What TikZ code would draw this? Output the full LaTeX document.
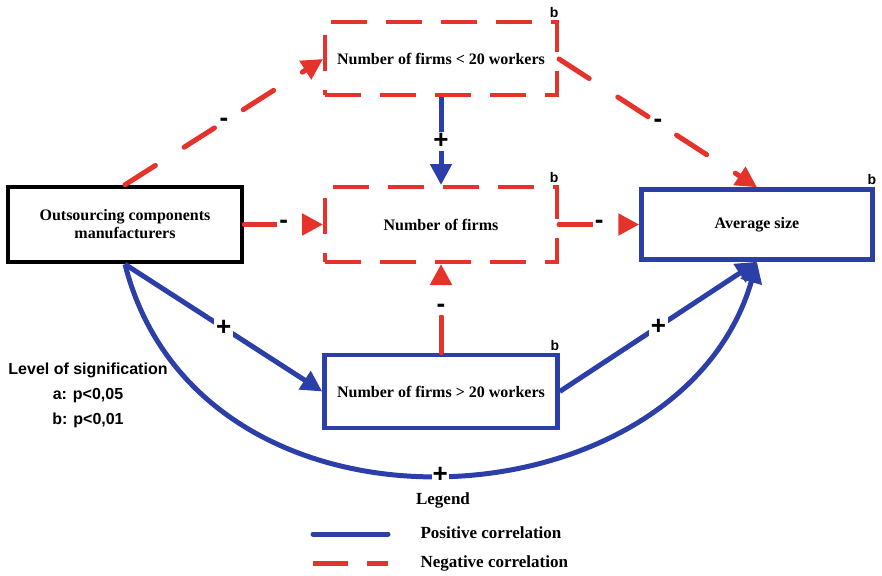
\documentclass[tikz,border=0pt]{standalone}
\usepackage{fontspec}
\setmainfont{Liberation Serif}
\newfontfamily\labelsans{Liberation Sans}
\usetikzlibrary{arrows.meta}
\definecolor{negred}{HTML}{E5322A}
\definecolor{posblue}{HTML}{2C3FA8}
\begin{document}
\begin{tikzpicture}[x=1pt,y=-1pt,
  box/.style={rectangle, inner sep=0pt, align=center,
    font=\fontsize{16}{18}\selectfont\bfseries},
  solidbox/.style={box, line width=4.5pt},
  dashbox/.style={box, draw=negred, line width=4pt, dash pattern=on 36pt off 19pt},
  sig/.style={font=\labelsans\fontsize{16}{18}\selectfont\bfseries},
  sigmark/.style={font=\labelsans\fontsize{14}{16}\selectfont\bfseries},
  poslink/.style={draw=posblue, line width=5pt,
    -{Triangle[length=21pt,width=21pt]}},
  neglink/.style={draw=negred, line width=5pt, line cap=round,
    dash pattern=on 36pt off 34pt,
    -{Triangle[length=21pt,width=21pt]}},
  sign/.style={fill=white, inner sep=2pt, text=black,
    font=\labelsans\fontsize{26}{26}\selectfont\bfseries},
  legtext/.style={anchor=west, font=\fontsize{17}{19}\selectfont\bfseries}
]
\useasboundingbox (0,0) rectangle (882,575);

% boxes
\node[solidbox, draw=black, minimum width=234pt, minimum height=75pt]
  (out) at (125,224.5) {Outsourcing components\\manufacturers};
\node[dashbox, minimum width=232pt, minimum height=73pt]
  (small) at (441,59) {Number of firms < 20 workers};
\node[dashbox, minimum width=232pt, minimum height=75pt]
  (firms) at (441,224.5) {Number of firms};
\node[solidbox, draw=posblue, minimum width=231pt, minimum height=70pt]
  (avg) at (757,224.5) {Average size};
\node[solidbox, draw=posblue, minimum width=233pt, minimum height=73pt]
  (large) at (441,391.5) {Number of firms > 20 workers};

% significance marks
\node[sigmark, anchor=south east] (bs) at ([xshift=3pt,yshift=-1pt]small.north east) {b};
\node[sigmark, anchor=south east] (bf) at ([xshift=3pt,yshift=-1pt]firms.north east) {b};
\node[sigmark, anchor=south east] (ba) at ([xshift=5pt,yshift=-1pt]avg.north east) {b};
\node[sigmark, anchor=south east] (bl) at ([xshift=3pt,yshift=-1pt]large.north east) {b};

% negative correlations
\draw[neglink] (out.north) -- node[sign, midway] {-} (small.west);
\draw[neglink] (out.east) -- node[sign, midway] {-} (firms.west);
\draw[neglink] (firms.east) -- node[sign, midway] {-} (avg.west);
\draw[neglink] (small.east) -- node[sign, midway] {-} (avg.north);
\draw[neglink] (large.north) -- node[sign, midway] {-} (firms.south);

% positive correlations
\draw[poslink] (small.south) -- node[sign, midway] {+} (firms.north);
\draw[poslink] (out.south) -- node[sign, midway] {+} (large.west);
\draw[poslink] (large.east) -- node[sign, midway] {+} (avg.south);
\draw[poslink] (out.south) .. controls (200,560) and (680,530) .. node[sign, pos=0.5, inner sep=1pt] {+} (avg.south);

% significance levels
\node[sig] (lvl) at (88,370) {Level of signification};
\node[sig] (lva) at (88,396) {a: p<0,05};
\node[sig] (lvb) at (88,420) {b: p<0,01};

% legend
\node[font=\fontsize{17}{19}\selectfont\bfseries] (leg) at (443,500) {Legend};
\coordinate (pa) at (313,534);
\coordinate (pb) at (388,534);
\coordinate (na) at (313,563);
\coordinate (nb) at (388,563);
\draw[posblue, line width=5pt, line cap=round] (pa) -- (pb);
\draw[negred, line width=5pt, dash pattern=on 35pt off 19pt] (na) -- (nb);
\node[legtext] (lpos) at (417,533) {Positive correlation};
\node[legtext] (lneg) at (417,563) {Negative correlation};
\end{tikzpicture}
\end{document}
